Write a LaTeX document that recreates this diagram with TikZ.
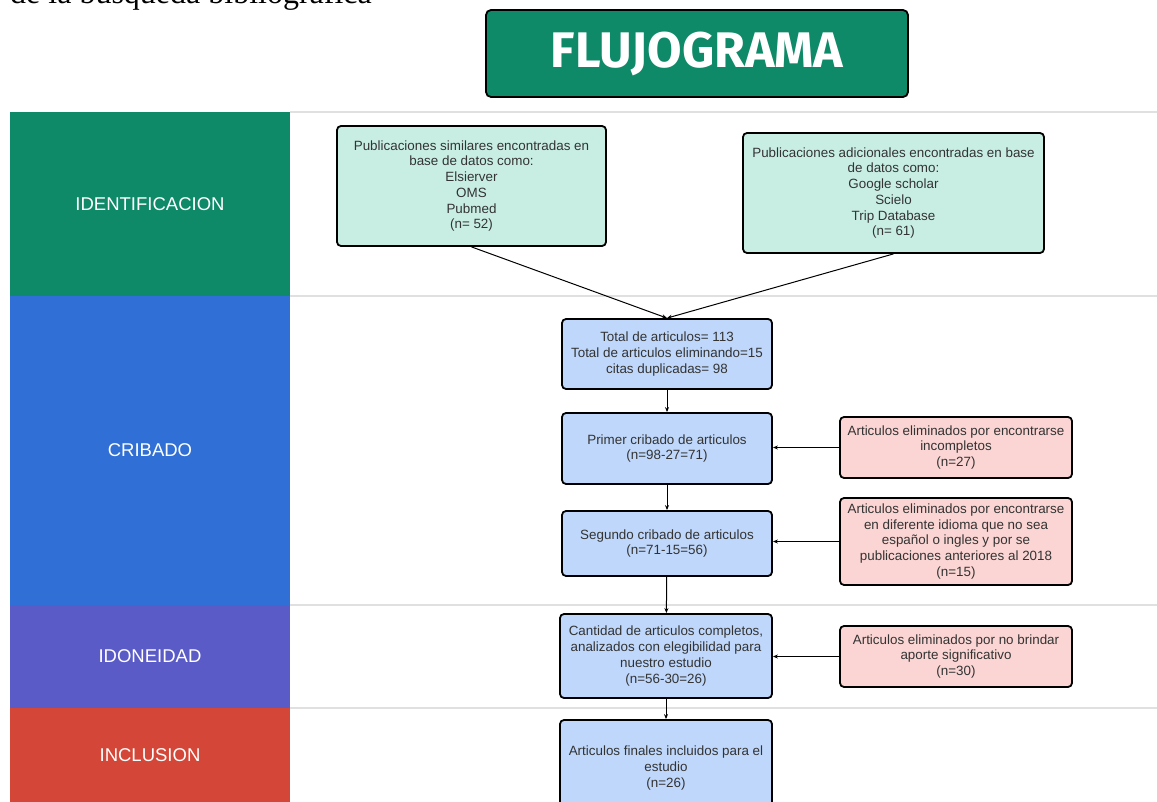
\documentclass[tikz,border=0pt]{standalone}
\usepackage{fontspec}
\setmainfont{Liberation Sans}
\newfontfamily\titlefont{Fira Sans}
\newfontfamily\docfont{Liberation Serif}
\usetikzlibrary{arrows.meta}
\definecolor{idgreen}{HTML}{0E8A69}
\definecolor{crblue}{HTML}{2F6FD6}
\definecolor{idpurple}{HTML}{5A5BC7}
\definecolor{inred}{HTML}{D44637}
\definecolor{tealfill}{HTML}{C8EEE4}
\definecolor{bluefill}{HTML}{BFD7FA}
\definecolor{pinkfill}{HTML}{FAD5D3}
\definecolor{txtgray}{HTML}{333333}
\begin{document}
\begin{tikzpicture}[x=1pt,y=-1pt,
    box/.style={draw=black, line width=1.8pt, rounded corners=4pt, align=center,
      text=txtgray, font=\fontsize{13.4}{15.7}\selectfont, inner sep=0pt},
    srcbox/.style={box, fill=tealfill},
    stagebox/.style={box, fill=bluefill},
    outbox/.style={box, fill=pinkfill},
    lanelabel/.style={text=white, font=\fontsize{18.5}{21}\selectfont},
    conn/.style={line width=1pt, -{Stealth[length=5pt,width=4pt]}}]
  \useasboundingbox (0,0) rectangle (1157,802);

  \node[anchor=base west, font=\docfont\fontsize{32}{34}\selectfont, inner sep=0pt]
    (doc) at (10,4) {de la búsqueda bibliográfica};

  \node[draw=black, line width=1.8pt, rounded corners=5pt, fill=idgreen,
    minimum width=422pt, minimum height=87pt, text=white,
    font=\titlefont\bfseries\fontsize{50}{54}\selectfont] (title) at (697,53.5) {FLUJOGRAMA};

  \foreach \top/\bot/\col/\name/\lbl in {112/296/idgreen/lid/IDENTIFICACION,
      296/605/crblue/lcr/CRIBADO, 605/708/idpurple/lio/IDONEIDAD, 708/802/inred/lin/INCLUSION}
  {
    \fill[\col] (10,\top) rectangle (290,\bot);
    \draw[black!12, line width=1.2pt] (290,\top) -- (1157,\top);
    \path (150,{(\top+\bot)/2}) node[lanelabel] (\name) {\lbl};
  }

  \node[srcbox, minimum width=269pt, minimum height=120pt] (srcA) at (471.5,186)
    {Publicaciones similares encontradas en\\ base de datos como:\\ Elsierver\\ OMS\\ Pubmed\\ (n= 52)};
  \node[srcbox, minimum width=301pt, minimum height=120pt] (srcB) at (893.5,193)
    {Publicaciones adicionales encontradas en base\\ de datos como:\\ Google scholar\\ Scielo\\ Trip Database\\ (n= 61)};

  \node[stagebox, minimum width=210pt, minimum height=70pt] (total) at (667,354)
    {Total de articulos= 113\\ Total de articulos eliminando=15\\ citas duplicadas= 98};
  \node[stagebox, minimum width=210pt, minimum height=71pt] (first) at (667,448.5)
    {Primer cribado de articulos\\ (n=98-27=71)};
  \node[stagebox, minimum width=210pt, minimum height=65pt] (second) at (667,543.5)
    {Segundo cribado de articulos\\ (n=71-15=56)};
  \node[stagebox, minimum width=212pt, minimum height=84pt] (elig) at (666,656)
    {Cantidad de articulos completos,\\ analizados con elegibilidad para\\ nuestro estudio\\ (n=56-30=26)};
  \node[stagebox, minimum width=212pt, minimum height=100pt, text depth=0pt] (final) at (666,770)
    {\raisebox{22pt}{\parbox{205pt}{\centering Articulos finales incluidos para el\\ estudio\\ (n=26)}}};

  \node[outbox, minimum width=232pt, minimum height=61pt] (outA) at (956,447.5)
    {Articulos eliminados por encontrarse\\ incompletos\\ (n=27)};
  \node[outbox, minimum width=232pt, minimum height=87pt] (outB) at (956,541.5)
    {Articulos eliminados por encontrarse\\ en diferente idioma que no sea\\ español o ingles y por se\\ publicaciones anteriores al 2018\\ (n=15)};
  \node[outbox, minimum width=232pt, minimum height=61pt] (outC) at (956,656.5)
    {Articulos eliminados por no brindar\\ aporte significativo\\ (n=30)};

  \draw[conn] (srcA.south) -- (total.north);
  \draw[conn] (srcB.south) -- (total.north);
  \draw[conn] (total) -- (first);
  \draw[conn] (first) -- (second);
  \draw[conn] (second) -- (elig);
  \draw[conn] (elig.south) -- (final.north);
  \draw[conn] (outA.west) -- (first.east |- outA.west);
  \draw[conn] (outB.west) -- (second.east |- outB.west);
  \draw[conn] (outC.west) -- (elig.east |- outC.west);
\end{tikzpicture}
\end{document}
